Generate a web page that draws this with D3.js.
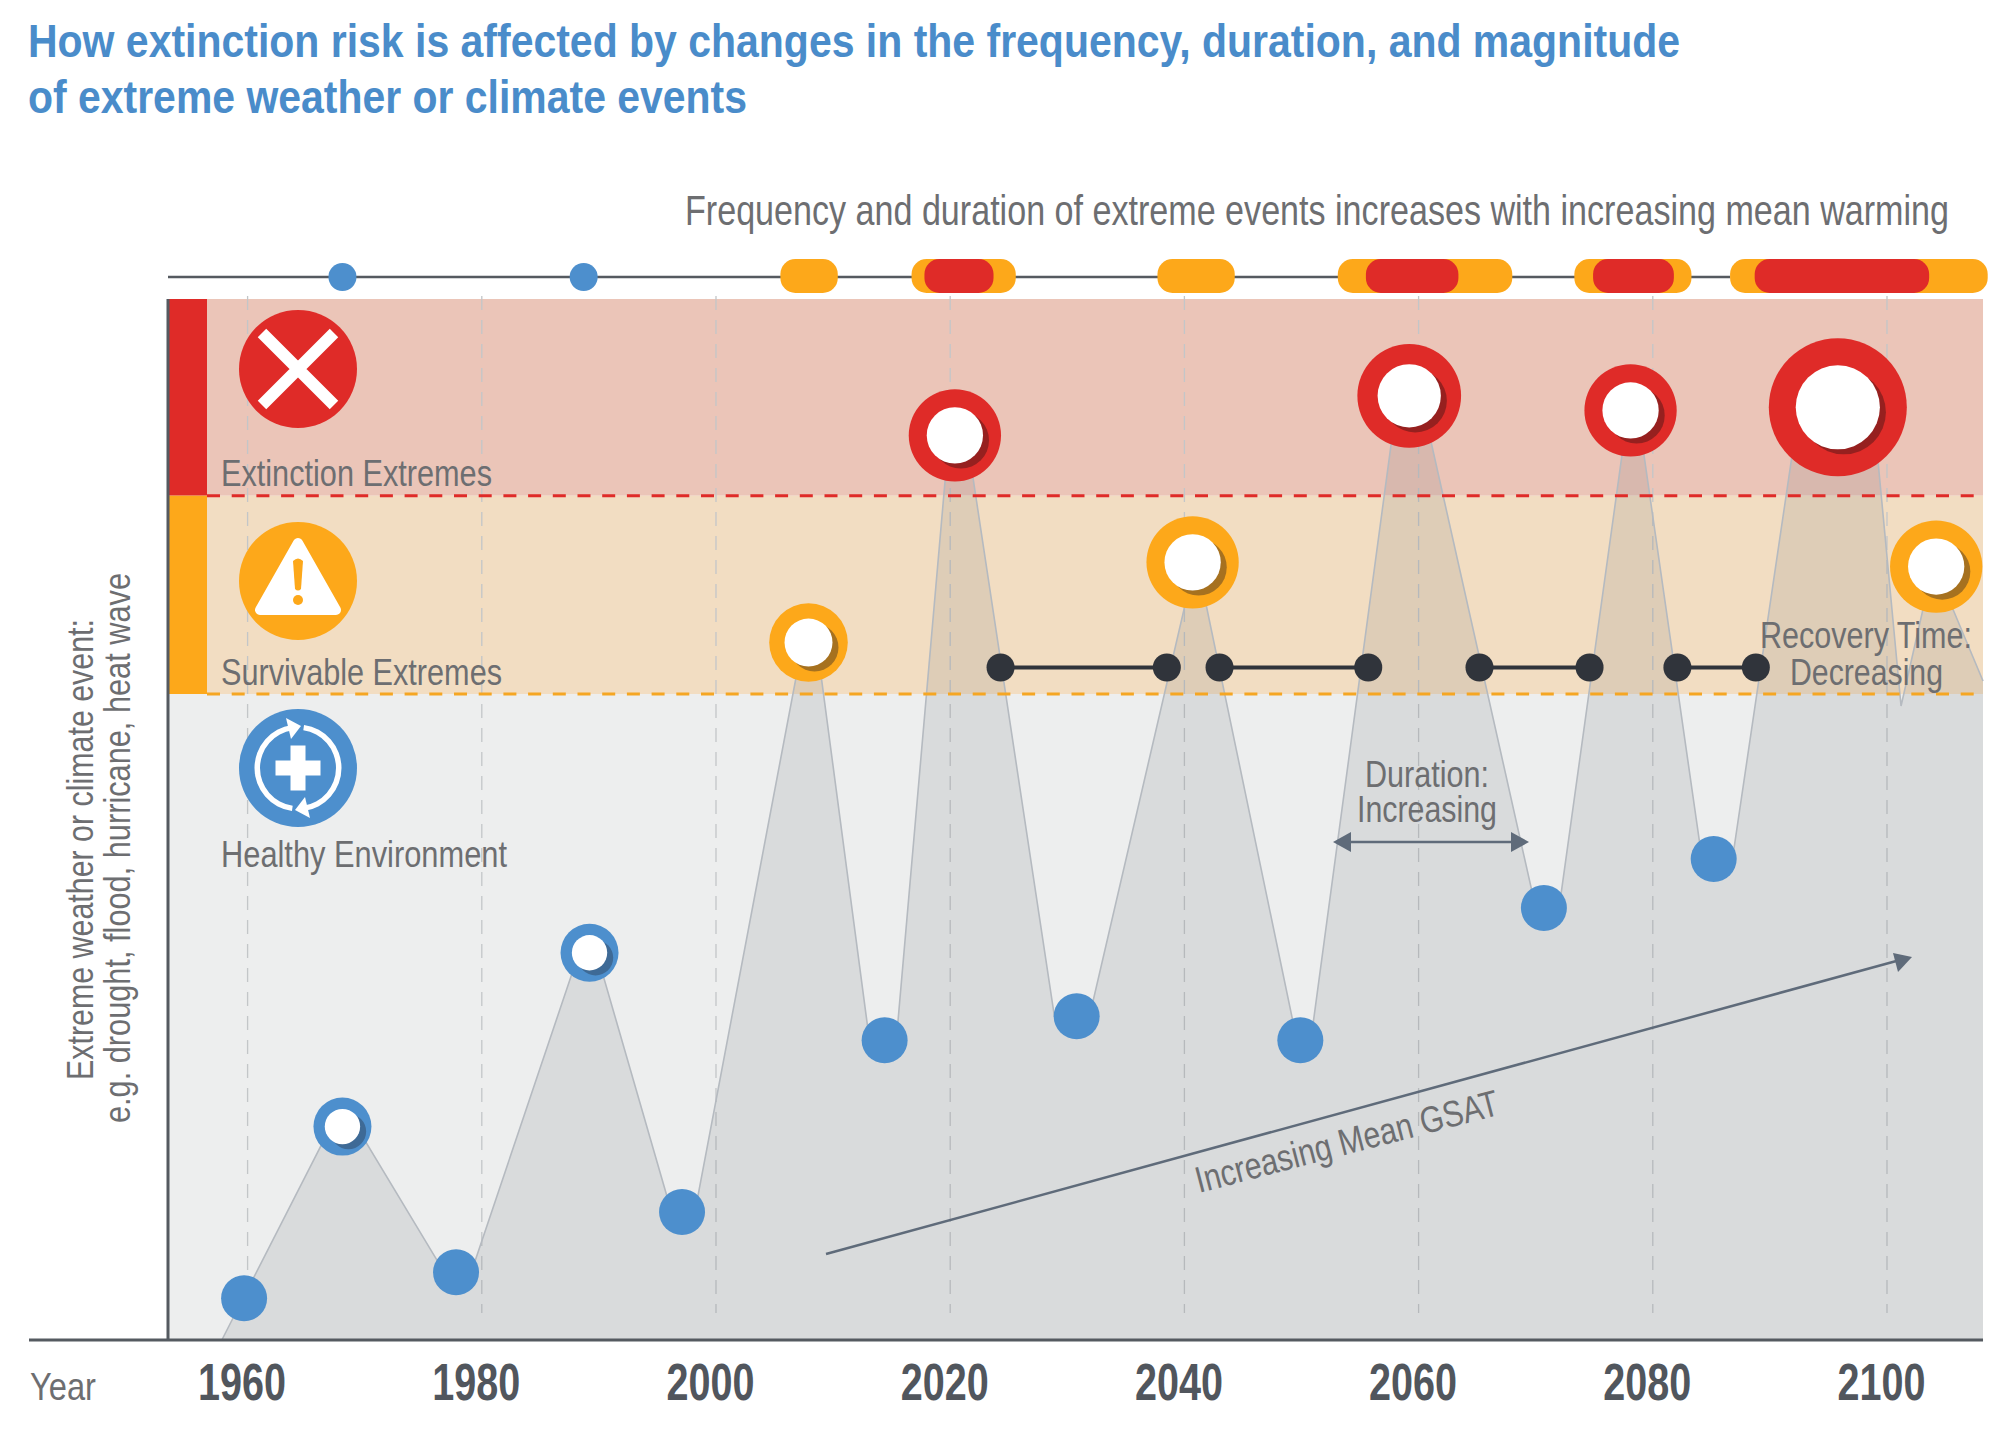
<!DOCTYPE html>
<html>
<head>
<meta charset="utf-8">
<script src="https://cdn.jsdelivr.net/npm/d3@7"></script>
<style>
  html, body { margin: 0; padding: 0; background: #fff; }
  text { font-family: "Liberation Sans Narrow", "Liberation Sans", sans-serif; }
</style>
</head>
<body>
<svg id="chart" width="2009" height="1430"></svg>
<script>
// ---- data ----
// level is an intensity scale: 0 at the baseline, 100 at the top of the bands
var tickYears = [1960, 1980, 2000, 2020, 2040, 2060, 2080, 2100];
var bandLevels = [100, 81.1, 62.05, 0];
var bandNames = ["Extinction Extremes", "Survivable Extremes", "Healthy Environment"];

// the events (circles)
var eventYears = [1959.7, 1968.1, 1977.8, 1989.2, 1997.1, 2007.9, 2014.4, 2020.4, 2030.8, 2040.7, 2049.9, 2059.2, 2070.7, 2078.1, 2085.2, 2095.8, 2104.2];
var eventLevels = [4.0, 20.5, 6.5, 37.2, 12.3, 67.0, 28.8, 86.9, 31.1, 74.7, 28.8, 90.7, 41.5, 89.3, 46.2, 89.6, 74.3];
var eventMagnitude = [0, 1, 0, 1, 0, 2.8, 0, 4, 0, 4, 0, 5, 0, 4, 0, 8, 4];

// outline of the grey area behind the events
var ridgeYears = [1957.8, 1967.1, 1969.3, 1976.8, 1979.1, 1988.3, 1989.8, 1996.2, 1998.2, 2007.4, 2008.6, 2013.1, 2015.4, 2019.9, 2021.4, 2028.9, 2031.9, 2040.9, 2041.1, 2049.6, 2050.8, 2058.2, 2060.2, 2070.0, 2072.0, 2077.9, 2078.7, 2084.2, 2086.8, 2092.5, 2098.8, 2101.2, 2103.9, 2104.1, 2108.2];
var ridgeLevels = [0, 20.5, 20.5, 6.5, 6.5, 37.2, 37.2, 12.3, 12.3, 67, 67, 28.8, 28.8, 86.9, 86.9, 31.1, 31.1, 74.7, 74.7, 28.8, 28.8, 90.6, 90.6, 41.5, 41.5, 89.3, 89.3, 46.2, 46.2, 89.6, 89.6, 60.9, 74.3, 74.3, 63.3];
var endYear = 2108.2;

// recovery time dumbbells
var recoveryStart = [2024.3, 2043.0, 2065.2, 2082.1];
var recoveryEnd = [2038.5, 2055.7, 2074.6, 2088.8];
var recoveryLevel = 64.6;

// timeline strip above the chart
var timelineDots = [1968.1, 1988.7];
var orangeStart = [2005.5, 2016.7, 2037.7, 2053.1, 2073.3, 2086.6];
var orangeEnd = [2010.4, 2025.6, 2044.3, 2068.0, 2083.3, 2108.6];
var redStart = [2017.8, 2055.5, 2074.9, 2088.7];
var redEnd = [2023.7, 2063.4, 2081.8, 2103.6];

// ---- colours ----
var RED = "#df2b28", ORANGE = "#fda81a", BLUE = "#4d8fcd", DARK = "#555a60", TEXT = "#6d6e71", ARROW = "#5f6b7a";
var bandFills = ["#ebc5b8", "#f2ddc2", "#edeeee"];
var stripFills = [RED, ORANGE];
var dashFills = [RED, "#f5a623"];

var svg = d3.select("#chart");

var x = d3.scaleLinear().domain([1960, 2100]).range([247.6, 1887]);
var y = d3.scaleLinear().domain([0, 100]).range([1340, 299]);
var ringRadius = d3.scaleLinear().domain([1, 8]).range([29, 69]);
var xRight = x(endYear), xLeft = 168;

function label(txt, px, py, size, width, opts) {
  opts = opts || {};
  var t = svg.append("text").attr("x", px).attr("y", py)
    .attr("font-size", size).attr("fill", opts.fill || TEXT)
    .attr("font-weight", opts.weight || "normal")
    .attr("textLength", width).attr("lengthAdjust", "spacingAndGlyphs")
    .text(txt);
  if (opts.transform) t.attr("transform", opts.transform);
  return t;
}

// title
label("How extinction risk is affected by changes in the frequency, duration, and magnitude", 28, 57, 47, 1652, {fill: "#4a8cca", weight: "bold"});
label("of extreme weather or climate events", 28, 113, 47, 719, {fill: "#4a8cca", weight: "bold"});
label("Frequency and duration of extreme events increases with increasing mean warming", 685, 225, 42, 1264);

// bands
bandNames.forEach(function (name, i) {
  svg.append("rect").attr("x", xLeft).attr("width", xRight - xLeft)
    .attr("y", y(bandLevels[i])).attr("height", y(bandLevels[i + 1]) - y(bandLevels[i]))
    .attr("fill", bandFills[i]);
  if (i < 2) {
    svg.append("rect").attr("x", xLeft).attr("width", 39)
      .attr("y", y(bandLevels[i])).attr("height", y(bandLevels[i + 1]) - y(bandLevels[i]))
      .attr("fill", stripFills[i]);
  }
});

// year grid
svg.append("g").selectAll("line").data(tickYears).join("line")
  .attr("x1", d => x(d)).attr("x2", d => x(d))
  .attr("y1", 296).attr("y2", 1313)
  .attr("stroke", "#c3c6c8").attr("stroke-width", 1.3).attr("stroke-dasharray", "14 10");

// grey area
var ridge = ridgeYears.map((d, i) => [d, ridgeLevels[i]]);
var area = d3.area().x(d => x(d[0])).y0(y(0)).y1(d => y(d[1]));
var line = d3.line().x(d => x(d[0])).y(d => y(d[1]));
svg.append("path").datum(ridge.concat([[endYear, 0]])).attr("d", area)
  .attr("fill", "#6d7278").attr("fill-opacity", 0.15);
svg.append("path").datum(ridge).attr("d", line)
  .attr("fill", "none").attr("stroke", "#b5bac0").attr("stroke-width", 1.6);

// threshold lines
[0, 1].forEach(function (i) {
  svg.append("line").attr("x1", 207).attr("x2", xRight)
    .attr("y1", y(bandLevels[i + 1])).attr("y2", y(bandLevels[i + 1]))
    .attr("stroke", dashFills[i]).attr("stroke-width", 3).attr("stroke-dasharray", "13 11.7");
});

// axes lines
svg.append("line").attr("x1", xLeft).attr("x2", xLeft).attr("y1", 299).attr("y2", 1340)
  .attr("stroke", DARK).attr("stroke-width", 3);
svg.append("line").attr("x1", 29).attr("x2", xRight).attr("y1", 1340).attr("y2", 1340)
  .attr("stroke", DARK).attr("stroke-width", 3);

// x axis labels
var axis = d3.axisBottom(x).tickValues(tickYears).tickFormat(d3.format("d")).tickSize(0);
var axisG = svg.append("g").attr("transform", "translate(-6,1340)").call(axis);
axisG.select(".domain").remove();
axisG.selectAll("text").attr("y", 60).attr("dy", 0)
  .style("font-family", '"Liberation Sans Narrow", "Liberation Sans", sans-serif')
  .attr("font-size", 52).attr("font-weight", "bold").attr("fill", "#51565d")
  .attr("textLength", 88).attr("lengthAdjust", "spacingAndGlyphs");
label("Year", 30, 1400, 39, 66);

// timeline strip
svg.append("line").attr("x1", xLeft).attr("x2", x(orangeStart[5])).attr("y1", 277).attr("y2", 277)
  .attr("stroke", DARK).attr("stroke-width", 2.5);
svg.append("g").selectAll("circle").data(timelineDots).join("circle")
  .attr("cx", d => x(d)).attr("cy", 277).attr("r", 14).attr("fill", BLUE);
function pills(starts, ends, fill) {
  svg.append("g").selectAll("rect").data(starts).join("rect")
    .attr("x", d => x(d)).attr("width", (d, i) => x(ends[i]) - x(d))
    .attr("y", 259).attr("height", 34).attr("rx", 15).attr("ry", 15).attr("fill", fill);
}
pills(orangeStart, orangeEnd, ORANGE);
pills(redStart, redEnd, RED);

// band icons
var icons = [369, 581, 768].map(function (cy, i) {
  var g = svg.append("g").attr("transform", "translate(298," + cy + ")");
  g.append("circle").attr("r", 59).attr("fill", [RED, ORANGE, BLUE][i]);
  return g;
});
icons[0].append("path").attr("d", "M-36,-36L36,36M36,-36L-36,36")
  .attr("stroke", "#fff").attr("stroke-width", 12).attr("fill", "none");
icons[1].append("path").attr("d", "M0,-38L-38,29L38,29Z")
  .attr("fill", "#fff").attr("stroke", "#fff").attr("stroke-width", 10).attr("stroke-linejoin", "round");
icons[1].append("path").attr("d", "M-5,-20Q0,-25 5,-20L3,8Q0,11 -3,8Z").attr("fill", ORANGE);
icons[1].append("circle").attr("cy", 19).attr("r", 5).attr("fill", ORANGE);
icons[2].append("path").attr("d", "M-7.5,-22.5H7.5V-7.5H22.5V7.5H7.5V22.5H-7.5V7.5H-22.5V-7.5H-7.5Z").attr("fill", "#fff");
var ringArc = d3.arc().innerRadius(38).outerRadius(43.5);
[[188, 352], [8, 172]].forEach(function (a) {
  icons[2].append("path")
    .attr("d", ringArc({startAngle: a[0] * Math.PI / 180, endAngle: a[1] * Math.PI / 180}))
    .attr("fill", "#fff");
});
icons[2].append("path").attr("d", "M-12,-50L3,-42L-7,-29Z").attr("fill", "#fff");
icons[2].append("path").attr("d", "M12,50L-3,42L7,29Z").attr("fill", "#fff");

label(bandNames[0], 221, 486, 37, 271);
label(bandNames[1], 221, 685, 37, 281);
label(bandNames[2], 221, 867, 37, 286);

// y axis title
label("Extreme weather or climate event:", 0, 0, 36, 461, {transform: "translate(93,1080) rotate(-90)"});
label("e.g. drought, flood, hurricane, heat wave", 0, 0, 36, 550, {transform: "translate(130,1123) rotate(-90)"});

// recovery dumbbells
var recovery = svg.append("g");
recovery.selectAll("line").data(recoveryStart).join("line")
  .attr("x1", d => x(d)).attr("x2", (d, i) => x(recoveryEnd[i]))
  .attr("y1", y(recoveryLevel)).attr("y2", y(recoveryLevel))
  .attr("stroke", "#30343b").attr("stroke-width", 4);
recovery.selectAll("circle").data(recoveryStart.concat(recoveryEnd)).join("circle")
  .attr("cx", d => x(d)).attr("cy", y(recoveryLevel)).attr("r", 14).attr("fill", "#30343b");

// event markers, colour comes from the band the level falls in
function eventColor(level) {
  if (level > bandLevels[1]) return [RED, "#96201f"];
  if (level > bandLevels[2]) return [ORANGE, "#a6711f"];
  return [BLUE, "#3e6a96"];
}
eventYears.forEach(function (yr, i) {
  var g = svg.append("g").attr("transform", "translate(" + x(yr) + "," + y(eventLevels[i]) + ")");
  var c = eventColor(eventLevels[i]);
  if (eventMagnitude[i] === 0) {
    g.append("circle").attr("r", 23).attr("fill", c[0]);
    return;
  }
  var r = ringRadius(eventMagnitude[i]);
  var inner = r * 0.61;
  g.append("circle").attr("r", r).attr("fill", c[0]);
  g.append("circle").attr("cx", 6).attr("cy", 5).attr("r", inner).attr("fill", c[1]);
  g.append("circle").attr("r", inner).attr("fill", "#fff");
});

// annotations
label("Duration:", 1365, 787, 37, 124);
label("Increasing", 1357, 822, 37, 140);
label("Recovery Time:", 1760, 648, 37, 212);
label("Decreasing", 1790, 685, 37, 153);
label("Increasing Mean GSAT", 0, 0, 37, 312, {transform: "translate(1199,1193) rotate(-14.6)"});

svg.append("line").attr("x1", 1345).attr("x2", 1517).attr("y1", 842).attr("y2", 842)
  .attr("stroke", ARROW).attr("stroke-width", 2.5);
svg.append("path").attr("d", "M1333,842L1351,832V852Z").attr("fill", ARROW);
svg.append("path").attr("d", "M1529,842L1511,832V852Z").attr("fill", ARROW);
svg.append("line").attr("x1", 826).attr("y1", 1254).attr("x2", 1900).attr("y2", 960)
  .attr("stroke", ARROW).attr("stroke-width", 2.5);
svg.append("path").attr("d", "M1912,957L1893,953L1898,972Z").attr("fill", ARROW);
</script>
</body>
</html>
